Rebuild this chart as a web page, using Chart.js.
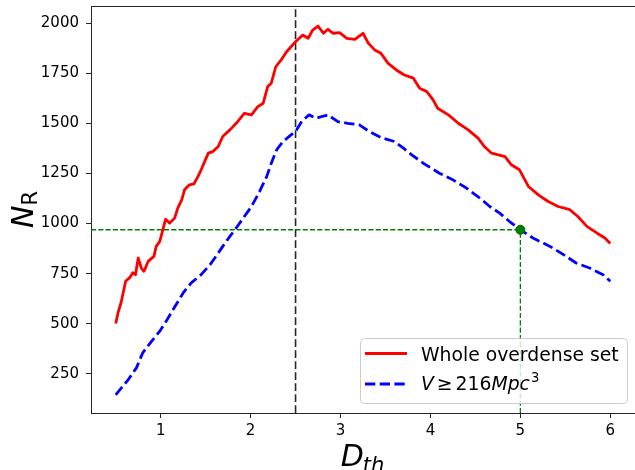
<!DOCTYPE html>
<html>
<head>
<meta charset="utf-8">
<script src="https://cdn.jsdelivr.net/npm/chart.js@4.4.1/dist/chart.umd.min.js"></script>
<style>
  html, body { margin: 0; padding: 0; background: #fff; }
  canvas { display: block; }
</style>
</head>
<body>
<canvas id="chart" width="635" height="470"></canvas>
<script>
// values
const redX = [0.50, 0.525, 0.56, 0.61, 0.655, 0.69, 0.72, 0.75, 0.785, 0.815, 0.86, 0.925, 0.95, 0.99,
  1.015, 1.055, 1.10, 1.155, 1.19, 1.235, 1.265, 1.32, 1.37, 1.415, 1.45, 1.53, 1.58, 1.64, 1.69, 1.77,
  1.84, 1.93, 2.01, 2.08, 2.14, 2.19, 2.23, 2.28, 2.34, 2.40, 2.45, 2.50, 2.58, 2.64, 2.69, 2.75, 2.81,
  2.86, 2.92, 2.99, 3.07, 3.16, 3.25, 3.31, 3.38, 3.45, 3.53, 3.62, 3.71, 3.81, 3.88, 3.96, 4.03, 4.08,
  4.20, 4.31, 4.42, 4.53, 4.60, 4.68, 4.83, 4.90, 4.99, 5.09, 5.20, 5.31, 5.42, 5.55, 5.64, 5.74, 5.85,
  5.94, 6.00];
const redY = [501, 554, 606, 712, 730, 755, 745, 828, 778, 762, 811, 836, 886, 911,
  953, 1022, 1002, 1027, 1077, 1119, 1168, 1193, 1198, 1235, 1268, 1351, 1359, 1384, 1434, 1467,
  1500, 1550, 1542, 1583, 1600, 1683, 1700, 1782, 1816, 1857, 1882, 1907, 1940, 1924, 1965, 1985, 1949,
  1969, 1949, 1952, 1924, 1919, 1949, 1899, 1866, 1849, 1799, 1766, 1741, 1725, 1675, 1658, 1617, 1575,
  1542, 1500, 1467, 1426, 1384, 1351, 1334, 1293, 1268, 1185, 1143, 1110, 1085, 1069, 1035, 986, 953,
  928, 900];

const blueX = [0.50, 0.64, 0.73, 0.80, 0.90, 0.99, 1.06, 1.16, 1.25, 1.34, 1.45, 1.55, 1.64, 1.69, 1.77,
  1.84, 1.93, 2.01, 2.10, 2.18, 2.23, 2.29, 2.36, 2.45, 2.51, 2.57, 2.65, 2.73, 2.80, 2.86, 2.97, 3.08,
  3.21, 3.32, 3.45, 3.60, 3.70, 3.80, 3.92, 4.10, 4.25, 4.40, 4.55, 4.66, 4.77, 4.88, 5.00, 5.14, 5.33,
  5.48, 5.62, 5.77, 5.92, 6.00];
const blueY = [145, 222, 280, 355, 413, 463, 512, 587, 654, 704, 745, 795, 853, 886, 936,
  978, 1035, 1085, 1160, 1235, 1301, 1368, 1409, 1442, 1467, 1510, 1542, 1525, 1535, 1542, 1508, 1500,
  1492, 1459, 1429, 1409, 1376, 1340, 1301, 1251, 1218, 1177, 1127, 1085, 1052, 1010, 969, 928, 886,
  845, 803, 778, 745, 712];

const xTicks = [1, 2, 3, 4, 5, 6];
const yTicks = [250, 500, 750, 1000, 1250, 1500, 1750, 2000];
const xRange = [0.225, 6.275];
const yRange = [55, 2085];

const thresholdX = 2.5;   // black dashed line
const markX = 5;          // green marker
const markY = 969;

const redLabel = 'Whole overdense set';

const toPoints = (xs, ys) => xs.map((x, i) => ({ x: x, y: ys[i] }));

const FONT = 'DejaVu Sans';
const SPINE = '#262626';

// top spine, axis titles (with subscripts) and the legend box
const extras = {
  id: 'extras',
  afterDraw(chart) {
    const ctx = chart.ctx;
    const a = chart.chartArea;
    ctx.save();

    // top spine
    ctx.strokeStyle = SPINE;
    ctx.lineWidth = 1;
    ctx.beginPath();
    ctx.moveTo(a.left, a.top + 0.5);
    ctx.lineTo(a.right, a.top + 0.5);
    ctx.stroke();

    ctx.fillStyle = '#000';
    ctx.textBaseline = 'alphabetic';
    ctx.textAlign = 'left';

    // x title: D_th
    ctx.font = 'italic 30px ' + FONT;
    const wD = ctx.measureText('D').width;
    ctx.font = 'italic 21px ' + FONT;
    const wth = ctx.measureText('th').width;
    let x0 = (a.left + a.right) / 2 - (wD + wth) / 2;
    ctx.font = 'italic 30px ' + FONT;
    ctx.fillText('D', x0, 466);
    ctx.font = 'italic 21px ' + FONT;
    ctx.fillText('th', x0 + wD - 1, 472);

    // y title: N_R, rotated
    ctx.save();
    ctx.font = 'italic 30px ' + FONT;
    const wN = ctx.measureText('N').width;
    ctx.font = '21px ' + FONT;
    const wR = ctx.measureText('R').width;
    const yc = (a.top + a.bottom) / 2;
    ctx.translate(33, yc + (wN + wR) / 2);
    ctx.rotate(-Math.PI / 2);
    ctx.font = 'italic 30px ' + FONT;
    ctx.fillText('N', 0, 0);
    ctx.font = '21px ' + FONT;
    ctx.fillText('R', wN, 4);
    ctx.restore();

    // legend
    const bw = 267, bh = 65;
    const bx = a.right - 8 - bw;
    const by = a.bottom - 10 - bh;
    ctx.beginPath();
    ctx.roundRect(bx + 0.5, by + 0.5, bw, bh, 4);
    ctx.fillStyle = 'rgba(255,255,255,0.8)';
    ctx.fill();
    ctx.strokeStyle = '#cccccc';
    ctx.lineWidth = 1;
    ctx.stroke();

    const lx = bx + 5, lw = 42;
    const r1 = by + 15.5, r2 = by + 46;

    ctx.lineWidth = 2.8;
    ctx.strokeStyle = 'red';
    ctx.beginPath();
    ctx.moveTo(lx, r1);
    ctx.lineTo(lx + lw, r1);
    ctx.stroke();

    ctx.strokeStyle = 'blue';
    ctx.setLineDash([10.3, 4.4]);
    ctx.beginPath();
    ctx.moveTo(lx, r2);
    ctx.lineTo(lx + lw, r2);
    ctx.stroke();
    ctx.setLineDash([]);

    ctx.fillStyle = '#000';
    const tx = bx + 61;
    ctx.font = '18.8px ' + FONT;
    ctx.fillText(redLabel, tx, r1 + 7);

    // V ≥ 216Mpc^3
    let cx = tx;
    const base = r2 + 6;
    ctx.font = 'italic 18.8px ' + FONT;
    ctx.fillText('V', cx, base);
    cx += ctx.measureText('V').width + 3;
    ctx.font = '18.8px ' + FONT;
    ctx.fillText('\u2265', cx, base);
    cx += ctx.measureText('\u2265').width + 3;
    ctx.fillText('216', cx, base);
    cx += ctx.measureText('216').width;
    ctx.font = 'italic 18.8px ' + FONT;
    ctx.fillText('Mpc', cx, base);
    cx += ctx.measureText('Mpc').width + 1;
    ctx.font = '13.2px ' + FONT;
    ctx.fillText('3', cx, base - 8);

    ctx.restore();
  }
};

const tickFont = { family: FONT, size: 15 };

// drop the label-overflow padding chart.js adds, so the plot box sits where the reference has it
const noPad = (scale) => {
  scale.paddingLeft = 0;
  scale.paddingRight = 0;
  scale.paddingTop = 0;
  scale.paddingBottom = 0;
};

new Chart(document.getElementById('chart'), {
  type: 'line',
  data: {
    datasets: [
      {
        // green marker
        data: [{ x: markX, y: markY }],
        showLine: false,
        pointRadius: 4.5,
        pointBackgroundColor: 'green',
        pointBorderColor: '#006000',
        pointBorderWidth: 1,
        order: 0
      },
      {
        data: toPoints(redX, redY),
        borderColor: 'red',
        borderWidth: 2.8,
        pointRadius: 0,
        borderJoinStyle: 'round',
        tension: 0,
        order: 1
      },
      {
        data: toPoints(blueX, blueY),
        borderColor: 'blue',
        borderWidth: 2.8,
        borderDash: [10.3, 4.4],
        pointRadius: 0,
        borderJoinStyle: 'round',
        tension: 0,
        order: 2
      },
      {
        // threshold line
        data: [{ x: thresholdX, y: yRange[0] }, { x: thresholdX, y: yRange[1] }],
        borderColor: '#262626',
        borderWidth: 1.6,
        borderDash: [7.7, 3.3],
        pointRadius: 0,
        order: 3
      },
      {
        data: [{ x: xRange[0], y: markY }, { x: markX, y: markY }],
        borderColor: 'green',
        borderWidth: 1.3,
        borderDash: [5.1, 2.2],
        pointRadius: 0,
        order: 3
      },
      {
        data: [{ x: markX, y: yRange[0] }, { x: markX, y: markY }],
        borderColor: 'green',
        borderWidth: 1.3,
        borderDash: [5.1, 2.2],
        pointRadius: 0,
        order: 3
      }
    ]
  },
  options: {
    responsive: false,
    animation: false,
    layout: { autoPadding: false, padding: { left: 0, top: 6, right: 0, bottom: 0 } },
    plugins: {
      legend: { display: false },
      tooltip: { enabled: false }
    },
    scales: {
      x: {
        type: 'linear',
        min: xRange[0],
        max: xRange[1],
        afterBuildTicks: (scale) => { scale.ticks = xTicks.map(v => ({ value: v })); },
        afterFit: (scale) => { scale.height = 57; noPad(scale); },
        border: { display: true, color: SPINE, width: 1 },
        grid: { drawOnChartArea: false, drawTicks: true, tickLength: 5, tickColor: SPINE, tickWidth: 1 },
        ticks: { font: tickFont, color: '#000', padding: 4, maxRotation: 0, callback: (v) => String(v) }
      },
      y: {
        type: 'linear',
        min: yRange[0],
        max: yRange[1],
        afterBuildTicks: (scale) => { scale.ticks = yTicks.map(v => ({ value: v })); },
        afterFit: (scale) => { scale.width = 91; noPad(scale); },
        border: { display: true, color: SPINE, width: 1 },
        grid: { drawOnChartArea: false, drawTicks: true, tickLength: 5, tickColor: SPINE, tickWidth: 1 },
        ticks: { font: tickFont, color: '#000', padding: 7, callback: (v) => String(v) }
      }
    }
  },
  plugins: [extras]
});
</script>
</body>
</html>
